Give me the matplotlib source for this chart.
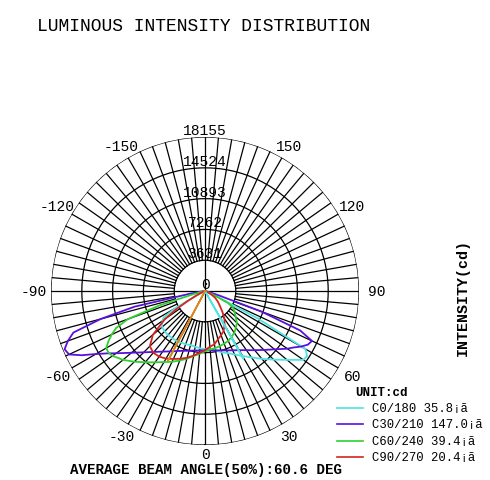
"""
Luminous intensity distribution (polar) - C-plane curves
"""
import numpy as np
import matplotlib
matplotlib.use("Agg")
import matplotlib.pyplot as plt
from matplotlib.lines import Line2D

plt.rcParams["font.family"] = ["Liberation Mono", "DejaVu Sans Mono"]

# ── data ─────────────────────────────────────────────
RMAX = 18155
RINGS = [3631, 7262, 10893, 14524, 18155]
ANGLE_TICKS = [0, 30, 60, 90, 120, 150, -150, -120, -90, -60, -30]

# gamma angle (deg) of each intensity sample, for one half plane
GAMMA = [0, 5, 10, 15, 20, 25, 30, 35, 40, 45, 50, 55,
         57.5, 60, 62.5, 65, 67.5, 70, 72.5, 75, 77.5, 80, 85, 90]

# intensity (cd); "right" = C0..C90 side, "left" = C180..C270 side
C0 = [6840, 6900, 7070, 7490, 7780, 8250, 8840, 9550, 10430, 11440, 12620, 14150,
      14270, 13680, 7070, 1770, 710, 240, 0, 0, 0, 0, 0, 0]
C180 = [6840, 6780, 6660, 6600, 6660, 6720, 6780, 6780, 6780, 6720, 6600, 6130,
        5780, 4130, 1180, 350, 0, 0, 0, 0, 0, 0, 0, 0]
C30 = [6990, 7020, 7100, 7240, 7440, 7710, 8050, 8510, 9100, 9820, 10690, 11850,
       12380, 13090, 13680, 13910, 12140, 7070, 1770, 590, 240, 120, 0, 0]
C210 = [6990, 7030, 7120, 7290, 7500, 7800, 8210, 8720, 9370, 10220, 11320, 12790,
        13680, 14850, 16390, 17690, 17920, 17210, 16270, 12730, 8490, 1770, 240, 0]
C60 = [7100, 6900, 6840, 6720, 6600, 6480, 6250, 6010, 5660, 5310, 4720, 4240,
       4010, 3770, 3070, 1410, 470, 120, 0, 0, 0, 0, 0, 0]
C240 = [7100, 7430, 7780, 8250, 8720, 9200, 9670, 10260, 10960, 11790, 12620, 13320,
        13500, 13440, 12850, 12140, 11320, 9670, 5660, 1410, 350, 0, 0, 0]
C90 = [6960, 6600, 6370, 5900, 5540, 5190, 4600, 4010, 3180, 2480, 2000, 1530,
       1300, 940, 590, 350, 120, 0, 0, 0, 0, 0, 0, 0]
C270 = [6960, 7310, 7720, 8140, 8490, 8840, 9200, 9430, 9490, 9200, 8020, 5780,
        4130, 2360, 1180, 470, 120, 0, 0, 0, 0, 0, 0, 0]

# narrow spikes seen in the plot
CYAN_SPIKE_THETA = [32.0, 29.5, 30.5]
CYAN_SPIKE_I = [0, 9150, 0]
ORANGE_SPIKE_THETA = [-27.0, -28.0, -29.0]
ORANGE_SPIKE_I = [0, 9300, 0]

PLANES = [
    ("C0/180 35.8¡ã", C0, C180, "#4fe3e3"),
    ("C30/210 147.0¡ã", C30, C210, "#5a10dc"),
    ("C60/240 39.4¡ã", C60, C240, "#2ed12e"),
    ("C90/270 20.4¡ã", C90, C270, "#d42424"),
]
ORANGE = "#d8861c"

fig = plt.figure(figsize=(4.9, 4.81), dpi=100)
ax = fig.add_axes([0.1041, 0.0727, 0.6286, 0.6403], projection="polar")
ax.set_theta_zero_location("S")
ax.set_theta_direction(1)
ax.set_ylim(0, RMAX)
ax.grid(False)
ax.set_xticks([])
ax.set_yticks([])
ax.spines["polar"].set_visible(False)

# ── grid ─────────────────────────────────────────────
ring_t = np.linspace(0, 2 * np.pi, 721)
for r in RINGS:
    ax.plot(ring_t, np.full_like(ring_t, r), color="black", lw=0.9, zorder=1)
for deg in range(0, 360, 5):
    r0 = 0 if deg % 90 == 0 else RINGS[0]
    ax.plot([np.deg2rad(deg)] * 2, [r0, RMAX], color="black", lw=0.9, zorder=1)

for r in RINGS:
    ax.text(np.pi, r, str(r), ha="center", va="bottom", fontsize=10.5, zorder=5)
ax.text(np.pi, 0, "0", ha="center", va="bottom", fontsize=10.5, zorder=5)

for t in ANGLE_TICKS:
    th = np.deg2rad(t)
    rr = RMAX * (1.058 + 0.055 * abs(np.sin(th)))
    ax.text(th, rr, str(t), ha="center", va="center", fontsize=10.5, clip_on=False)

# ── curves ───────────────────────────────────────────
g = np.array(GAMMA)
for label, right, left, color in PLANES:
    theta = np.deg2rad(np.concatenate([-g[::-1], g[1:]]))
    inten = np.concatenate([np.array(left)[::-1], np.array(right)[1:]])
    ax.plot(theta, inten, color=color, lw=1.3, zorder=3)

ax.plot(np.deg2rad(CYAN_SPIKE_THETA), CYAN_SPIKE_I, color=PLANES[0][3], lw=1.2, zorder=3)
ax.plot(np.deg2rad(ORANGE_SPIKE_THETA), ORANGE_SPIKE_I, color=ORANGE, lw=1.2, zorder=3)

# ── texts / legend ───────────────────────────────────
fig.text(0.0755, 0.9439, "LUMINOUS INTENSITY DISTRIBUTION", ha="left", va="center",
         fontsize=13)
fig.text(0.4204, 0.0220, "AVERAGE BEAM ANGLE(50%):60.6 DEG", ha="center", va="center",
         fontsize=10.2, fontweight="bold")
fig.text(0.945, 0.3805, "INTENSITY(cd)", rotation=90, ha="center", va="center",
         fontsize=10.8, fontweight="bold")

fig.text(0.7245, 0.1830, "UNIT:cd", ha="left", va="center", fontsize=9, fontweight="bold")
for i, (label, _, _, color) in enumerate(PLANES):
    y = 0.1497 - i * 0.0340
    fig.add_artist(Line2D([0.6878, 0.7408], [y, y], color=color, lw=1.2,
                          transform=fig.transFigure))
    fig.text(0.7592, y, label, ha="left", va="center", fontsize=8.8)

fig.savefig("out.png", dpi=100)
plt.close(fig)
